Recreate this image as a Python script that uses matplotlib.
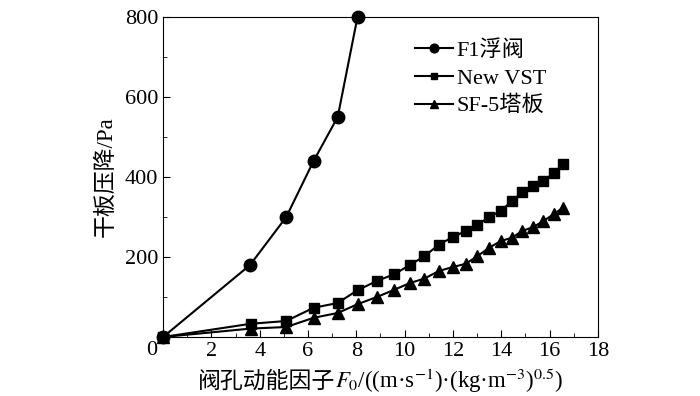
import numpy as np
import matplotlib
matplotlib.use("Agg")
import matplotlib.pyplot as plt
from matplotlib.offsetbox import TextArea, HPacker, AnchoredOffsetbox
from matplotlib.ticker import MultipleLocator

plt.rcParams['font.family'] = ['Liberation Serif', 'Noto Sans CJK SC']
plt.rcParams['mathtext.fontset'] = 'stix'

# data
f1_x = [0.0, 3.6, 5.1, 6.23, 7.23, 8.05]
f1_y = [0, 180, 300, 440, 550, 800]

vst_x = [0.0, 3.62, 5.1, 6.23, 7.23, 8.05, 8.85, 9.57, 10.22, 10.82, 11.42, 12.0,
         12.53, 13.01, 13.5, 13.98, 14.44, 14.87, 15.33, 15.75, 16.17, 16.55]
vst_y = [0, 33, 40, 73, 85, 117, 140, 157, 180, 202, 231, 250,
         265, 280, 300, 315, 340, 362, 377, 390, 410, 432]

sf_x = vst_x
sf_y = [0, 21, 25, 48, 60, 82, 100, 118, 135, 146, 165, 175,
        183, 202, 223, 240, 248, 265, 275, 290, 307, 323]

labels = ['F1浮阀', 'New VST', 'SF-5塔板']

fs = 16

fig = plt.figure(figsize=(7, 3.96), dpi=100)
ax = fig.add_axes([0.233, 0.149, 0.621, 0.808])

ax.plot(f1_x, f1_y, 'k-o', lw=1.5, ms=9, label=labels[0], clip_on=False, zorder=3)
ax.plot(vst_x, vst_y, 'k-s', lw=1.5, ms=7, label=labels[1], clip_on=False, zorder=3)
ax.plot(sf_x, sf_y, 'k-^', lw=1.5, ms=8, label=labels[2], clip_on=False, zorder=3)

ax.set_xlim(0, 18)
ax.set_ylim(0, 800)
ax.xaxis.set_minor_locator(MultipleLocator(1))
ax.yaxis.set_minor_locator(MultipleLocator(100))
ax.tick_params(which='both', direction='in', labelsize=fs, top=False, right=False)
ax.tick_params(which='major', length=5)
ax.tick_params(which='minor', length=3)

xt = np.arange(0, 19, 2)
ax.set_xticks(xt)
ax.set_xticklabels([''] + [str(v) for v in xt[1:]])
yt = np.arange(0, 801, 200)
ax.set_yticks(yt)
ax.set_yticklabels([''] + [str(v) for v in yt[1:]])
ax.text(-0.48, -33, '0', fontsize=fs, ha='center', va='center', clip_on=False)

ax.set_ylabel('干板压降/Pa', fontsize=fs + 0.5, labelpad=6)

# x label: CJK part + math part
ta1 = TextArea('阀孔动能因子', textprops=dict(fontsize=fs + 0.5, family=['Noto Sans CJK SC']))
ta2 = TextArea(r'$F_0$/((m·s$^{-1}$)·(kg·m$^{-3}$)$^{0.5}$)',
               textprops=dict(fontsize=fs + 0.5, family=['Liberation Serif']))
pack = HPacker(children=[ta1, ta2], align='baseline', pad=0, sep=0)
box = AnchoredOffsetbox(loc='upper center', child=pack, frameon=False,
                        bbox_to_anchor=(0.5, -0.09), bbox_transform=ax.transAxes,
                        borderpad=0, pad=0)
ax.add_artist(box)

ax.legend(loc='upper left', bbox_to_anchor=(0.56, 0.955), frameon=False, fontsize=fs,
          handlelength=1.7, markerscale=0.7, labelspacing=0.32, handletextpad=0.15,
          borderaxespad=0)

fig.savefig('out.png', dpi=100)
